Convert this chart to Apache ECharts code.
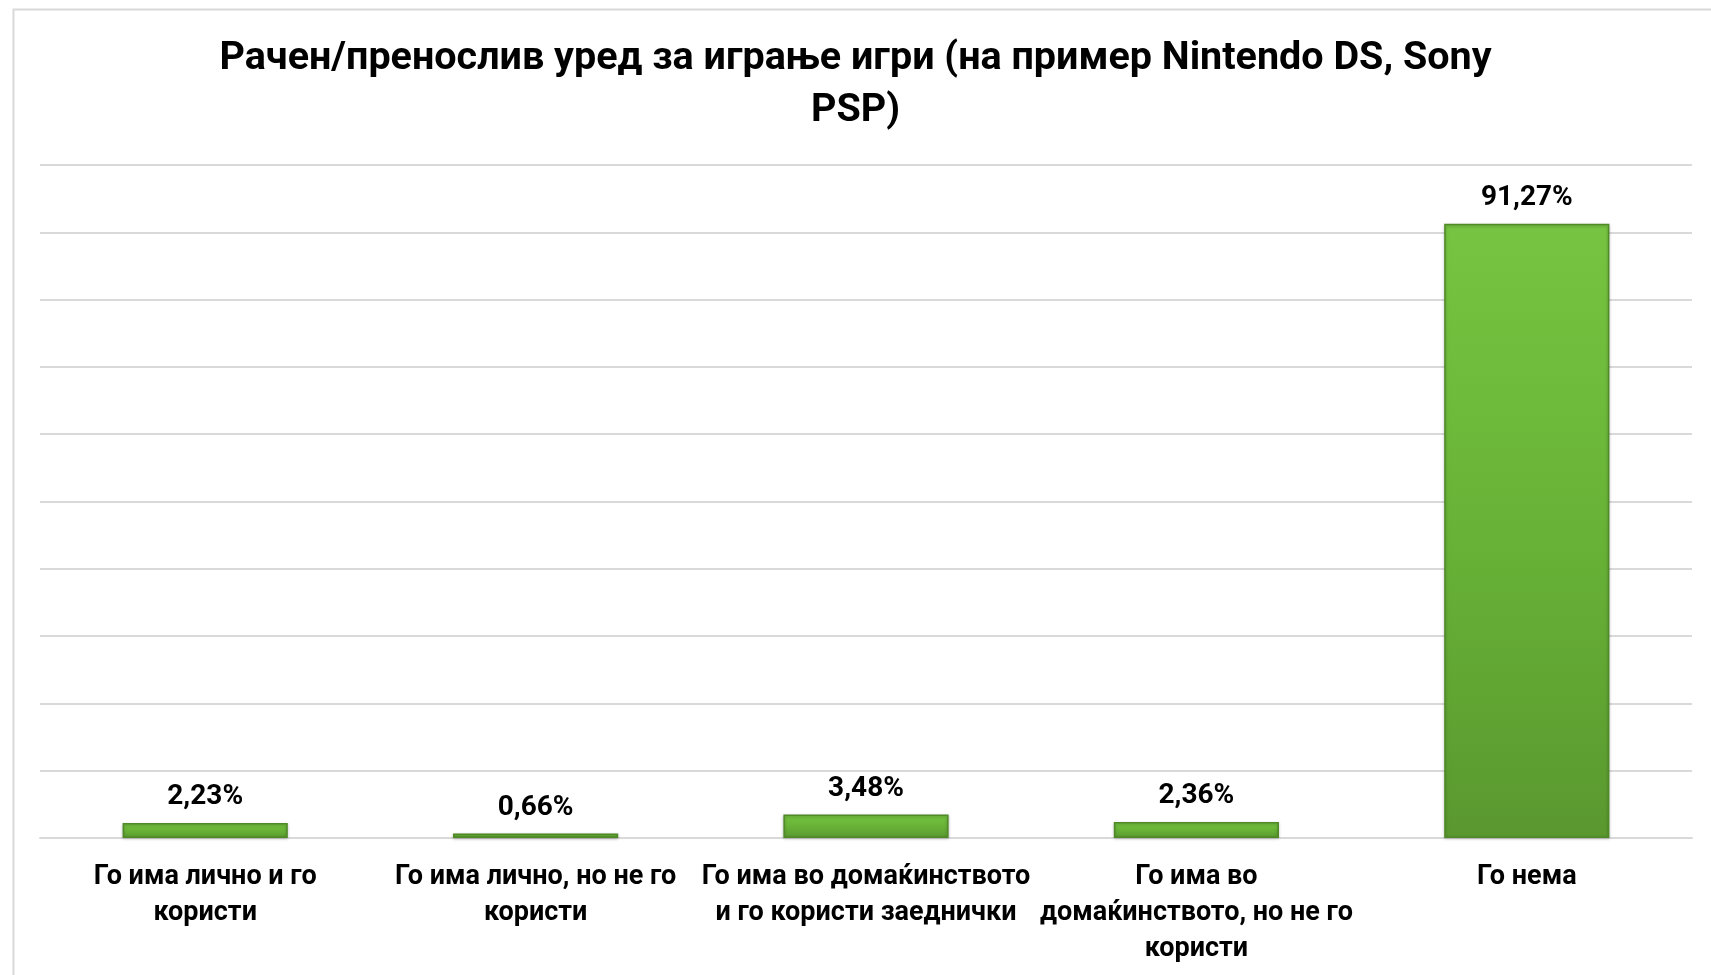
<!DOCTYPE html>
<html><head><meta charset="utf-8">
<script src="https://cdn.jsdelivr.net/npm/echarts@6/dist/echarts.min.js"></script>
<style>html,body{margin:0;padding:0;background:#fff}#c{width:1711px;height:975px}</style>
</head><body><div id="c"></div>
<script>
const titleText = 'Рачен/пренослив уред за играње игри (на пример Nintendo DS, Sony\nPSP)';
const categories = [
  'Го има лично и го\nкористи',
  'Го има лично, но не го\nкористи',
  'Го има во домаќинството\nи го користи заеднички',
  'Го има во\nдомаќинството, но не го\nкористи',
  'Го нема'
];
const values = [2.23, 0.66, 3.48, 2.36, 91.27];
const labels = ['2,23%', '0,66%', '3,48%', '2,36%', '91,27%'];

const FONT = 'Roboto, "Open Sans", "Noto Sans", sans-serif';
const chart = echarts.init(document.getElementById('c'));
chart.setOption({
  animation: false,
  backgroundColor: '#fff',
  graphic: [{
    type: 'rect', left: 11, top: 7, shape: { width: 1760, height: 1000 },
    style: { fill: 'none', stroke: '#d9d9d9', lineWidth: 2 }, silent: true, z: -1
  }],
  title: {
    text: titleText, left: 'center', top: 28,
    textStyle: { fontFamily: FONT, fontWeight: 'bold', fontSize: 39.5, lineHeight: 52, color: '#000' }
  },
  grid: { left: 40, right: 19, top: 165, bottom: 137 },
  xAxis: {
    type: 'category', data: categories,
    axisLine: { show: true, lineStyle: { color: '#d9d9d9', width: 2 } },
    axisTick: { show: false },
    axisLabel: { fontFamily: FONT, fontWeight: 'bold', fontSize: 27, lineHeight: 36, color: '#000', margin: 21, interval: 0 }
  },
  yAxis: {
    type: 'value', min: 0, max: 100, interval: 10,
    axisLabel: { show: false }, axisLine: { show: false }, axisTick: { show: false },
    splitLine: { lineStyle: { color: '#d9d9d9', width: 2 } }
  },
  series: [{
    type: 'bar', data: values, barWidth: '50%',
    itemStyle: {
      color: new echarts.graphic.LinearGradient(0, 0, 0, 1, [
        { offset: 0, color: '#76c441' }, { offset: 0.5, color: '#68b337' }, { offset: 1, color: '#5a982f' }
      ]),
      borderColor: '#4f8a27', borderWidth: 1.5,
      shadowColor: 'rgba(0,0,0,0.25)', shadowBlur: 3, shadowOffsetY: 1
    },
    label: {
      show: true, position: 'top', distance: 12,
      formatter: p => labels[p.dataIndex],
      fontFamily: FONT, fontWeight: 'bold', fontSize: 28, color: '#000'
    }
  }]
});
</script></body></html>
